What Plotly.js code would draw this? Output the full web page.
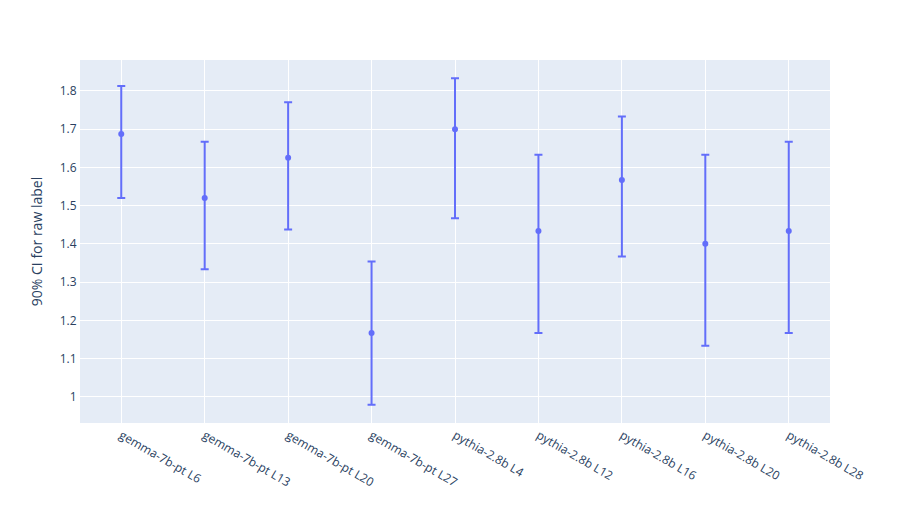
<!DOCTYPE html>
<html>
<head>
<meta charset="utf-8">
<script src="https://cdn.plot.ly/plotly-3.0.1.min.js"></script>
<style>html,body{margin:0;padding:0;}</style>
</head>
<body>
<div id="chart" style="width:910px;height:525px;"></div>
<script>
const categories = ["gemma-7b-pt L6","gemma-7b-pt L13","gemma-7b-pt L20","gemma-7b-pt L27","pythia-2.8b L4","pythia-2.8b L12","pythia-2.8b L16","pythia-2.8b L20","pythia-2.8b L28"];
const means = [1.6875, 1.52, 1.625, 1.1667, 1.7, 1.4333, 1.5667, 1.4, 1.4333];
const upper = [1.8125, 1.6667, 1.77, 1.354, 1.8333, 1.6333, 1.7333, 1.6333, 1.6667];
const lower = [1.52, 1.3333, 1.4375, 0.979, 1.4667, 1.1667, 1.3667, 1.1333, 1.1667];

const errPlus = upper.map((u, i) => u - means[i]);
const errMinus = lower.map((l, i) => means[i] - l);

const trace = {
  type: "scatter",
  mode: "markers",
  x: categories,
  y: means,
  marker: {color: "#636efa", size: 6},
  error_y: {type: "data", symmetric: false, array: errPlus, arrayminus: errMinus, color: "#636efa", thickness: 2, width: 4},
  showlegend: false
};

const layout = {
  width: 910,
  height: 525,
  margin: {t: 60, b: 102, l: 80, r: 80},
  paper_bgcolor: "white",
  plot_bgcolor: "#E5ECF6",
  font: {family: '"Open Sans", verdana, arial, sans-serif', color: "#2a3f5f", size: 12},
  yaxis: {title: {text: "90% CI for raw label"}, gridcolor: "white", linecolor: "white", zerolinecolor: "white", zerolinewidth: 2, ticks: "", automargin: true},
  xaxis: {tickangle: 30, gridcolor: "white", linecolor: "white", ticks: "", automargin: false}
};

Plotly.newPlot("chart", [trace], layout, {displayModeBar: false});
</script>
</body>
</html>
